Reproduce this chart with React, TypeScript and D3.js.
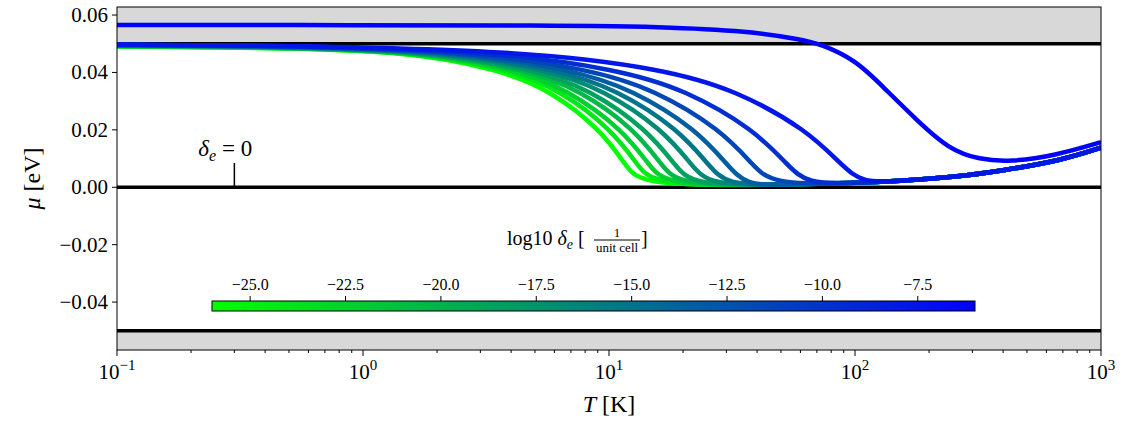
import * as d3 from 'd3';

// log10 delta_e of each curve
const deltas = [-26, -24.2, -22.4, -20.5, -18.7, -16.9, -15.1, -13.3, -11.5, -9.6, -7.8, -6];
// Curves: [T, mu]
const curves: [number, number][][] = [
  [[0.1, 0.049], [0.3, 0.0487], [1.41, 0.0478], [3.6, 0.041], [5.7, 0.034], [9.3, 0.02], [11.7, 0.0077], [13.4, 0.0004]],
  [[0.1, 0.0491], [0.3, 0.0488], [1.48, 0.0478], [3.9, 0.041], [6.3, 0.034], [10.3, 0.02], [13.1, 0.0077], [15.1, 0.0005]],
  [[0.1, 0.0492], [0.3, 0.0489], [1.54, 0.0478], [4.2, 0.041], [6.8, 0.034], [11.4, 0.02], [14.6, 0.0077], [16.9, 0.0005]],
  [[0.1, 0.0493], [0.3, 0.049], [1.62, 0.0478], [4.6, 0.041], [7.6, 0.034], [12.8, 0.02], [16.4, 0.0077], [19.1, 0.0006]],
  [[0.1, 0.0494], [0.3, 0.0491], [1.72, 0.0478], [5.0, 0.041], [8.4, 0.034], [14.3, 0.02], [18.6, 0.0077], [21.7, 0.0006]],
  [[0.1, 0.0494], [0.3, 0.0492], [1.84, 0.0478], [5.6, 0.041], [9.5, 0.034], [16.6, 0.02], [21.7, 0.0077], [25.5, 0.0007]],
  [[0.1, 0.0495], [0.3, 0.0493], [2.0, 0.0478], [6.2, 0.041], [10.8, 0.034], [19.3, 0.02], [25.4, 0.0077], [30, 0.0008]],
  [[0.1, 0.0496], [0.3, 0.0494], [2.2, 0.0478], [7.1, 0.041], [12.5, 0.034], [22.8, 0.02], [30.3, 0.0077], [36, 0.0008]],
  [[0.1, 0.0496], [0.3, 0.0495], [2.5, 0.0478], [8.5, 0.041], [15.3, 0.034], [28.6, 0.02], [38.5, 0.0077], [46, 0.0009]],
  [[0.1, 0.0497], [0.3, 0.0496], [3.1, 0.0478], [11.0, 0.041], [20.4, 0.034], [39.1, 0.02], [53.2, 0.0077], [64, 0.0011]],
  [[0.1, 0.0497], [0.3, 0.0496], [4.5, 0.0478], [17.0, 0.041], [32.4, 0.034], [63.9, 0.02], [88.2, 0.0077], [107, 0.0015]],
  [[0.1, 0.0565], [1, 0.0565], [5, 0.0564], [20, 0.0558], [40, 0.054], [60, 0.0515], [72, 0.05], [100, 0.0445], [130, 0.035], [178, 0.0234], [243, 0.013], [320, 0.0097], [427, 0.0088], [650, 0.011], [1000, 0.0157]],
];
// shared low-mu tail all curves (except the top one) merge into
const tail: [number, number][] = [[50, 0.0009], [100, 0.0015], [150, 0.0022], [250, 0.0035], [400, 0.0058], [700, 0.0095], [1000, 0.0138]];
const xTicks = [0.1, 1, 10, 100, 1000];
const xTickExp = ['−1', '0', '1', '2', '3'];
const yTicks = [0.06, 0.04, 0.02, 0, -0.02, -0.04];
const cbTicks = [-25, -22.5, -20, -17.5, -15, -12.5, -10, -7.5];

const W = 1126, H = 421;
const L = 117, R = 1101, T = 7, B = 350;

export default function App() {
  const x = d3.scaleLog().domain([0.1, 1000]).range([L, R]);
  const y = d3.scaleLinear().domain([-0.0567, 0.0628]).range([B, T]);
  const color = d3.scaleLinear<string>().domain([-26, -6]).range(['#00ff00', '#0000ff']);
  const cb = d3.scaleLinear().domain([-26, -6]).range([212, 975]);
  const line = d3.line<[number, number]>().x(d => x(d[0])).y(d => y(d[1])).curve(d3.curveBasis);
  const minors: number[] = [];
  for (let e = -1; e < 3; e++) for (let k = 2; k < 10; k++) minors.push(k * Math.pow(10, e));
  const font = "'Liberation Serif', 'DejaVu Serif', serif";
  return (
    <svg width={W} height={H} style={{ position: 'absolute', left: 0, top: 0 }} fontFamily={font}>
      <defs>
        <linearGradient id="cbg" x1="0" x2="1" y1="0" y2="0">
          <stop offset="0" stopColor="#00ff00" />
          <stop offset="1" stopColor="#0000ff" />
        </linearGradient>
        <clipPath id="clip"><rect x={L} y={T} width={R - L} height={B - T} /></clipPath>
      </defs>
      <rect x={L} y={T} width={R - L} height={y(0.05) - T} fill="#d8d8d8" />
      <rect x={L} y={y(-0.05)} width={R - L} height={B - y(-0.05)} fill="#d8d8d8" />
      {[0.05, 0, -0.05].map(v => (
        <line key={v} x1={L} x2={R} y1={y(v)} y2={y(v)} stroke="#000" strokeWidth={3.5} />
      ))}
      <g clipPath="url(#clip)">
        {curves.map((c, i) => {
          const last = c[c.length - 1][0];
          const pts = i < curves.length - 1 ? c.concat(tail.filter(p => p[0] > last * 1.25)) : c;
          return <path key={i} d={line(pts) || ''} fill="none" stroke={color(deltas[i])} strokeWidth={4.5} />;
        })}
      </g>
      <rect x={L} y={T} width={R - L} height={B - T} fill="none" stroke="#000" strokeWidth={1} />
      {/* annotation */}
      <line x1={x(0.3)} x2={x(0.3)} y1={163} y2={186} stroke="#000" strokeWidth={1.5} />
      <text x={x(0.3) - 36} y={156} fontSize={23} fontStyle="italic">δ<tspan fontSize={16} dy={5}>e</tspan><tspan fontStyle="normal" dy={-5}> = 0</tspan></text>
      {/* axes */}
      {yTicks.map(v => (
        <g key={v}>
          <line x1={L - 5} x2={L} y1={y(v)} y2={y(v)} stroke="#000" />
          <text x={L - 9} y={y(v) + 7} textAnchor="end" fontSize={21}>{v < 0 ? '−' + Math.abs(v).toFixed(2) : v.toFixed(2)}</text>
        </g>
      ))}
      {minors.map(v => <line key={v} x1={x(v)} x2={x(v)} y1={B} y2={B + 3} stroke="#000" />)}
      {xTicks.map((v, i) => (
        <g key={v}>
          <line x1={x(v)} x2={x(v)} y1={B} y2={B + 6} stroke="#000" />
          <text x={x(v)} y={B + 29} textAnchor="middle" fontSize={21}>10<tspan fontSize={15} dy={-9}>{xTickExp[i]}</tspan></text>
        </g>
      ))}
      <text x={(L + R) / 2} y={412} textAnchor="middle" fontSize={24}><tspan fontStyle="italic">T</tspan> [K]</text>
      <text transform={`translate(40,${(T + B) / 2}) rotate(-90)`} textAnchor="middle" fontSize={24}><tspan fontStyle="italic">μ</tspan> [eV]</text>
      {/* colorbar */}
      <rect x={cb(-26)} y={301} width={cb(-6) - cb(-26)} height={10} fill="url(#cbg)" stroke="#000" strokeWidth={1} />
      {cbTicks.map(v => (
        <g key={v}>
          <line x1={cb(v)} x2={cb(v)} y1={296} y2={301} stroke="#000" />
          <text x={cb(v)} y={290} textAnchor="middle" fontSize={16}>{'−' + Math.abs(v).toFixed(1)}</text>
        </g>
      ))}
      <text x={507} y={245} fontSize={20}>log10 <tspan fontStyle="italic">δ</tspan><tspan fontStyle="italic" fontSize={14} dy={4}>e</tspan><tspan dy={-4}> [</tspan></text>
      <text x={617} y={237} fontSize={13} textAnchor="middle">1</text>
      <line x1={594} x2={640} y1={240} y2={240} stroke="#000" strokeWidth={1} />
      <text x={617} y={252} fontSize={13} textAnchor="middle">unit cell</text>
      <text x={641} y={245} fontSize={20}>]</text>
    </svg>
  );
}
